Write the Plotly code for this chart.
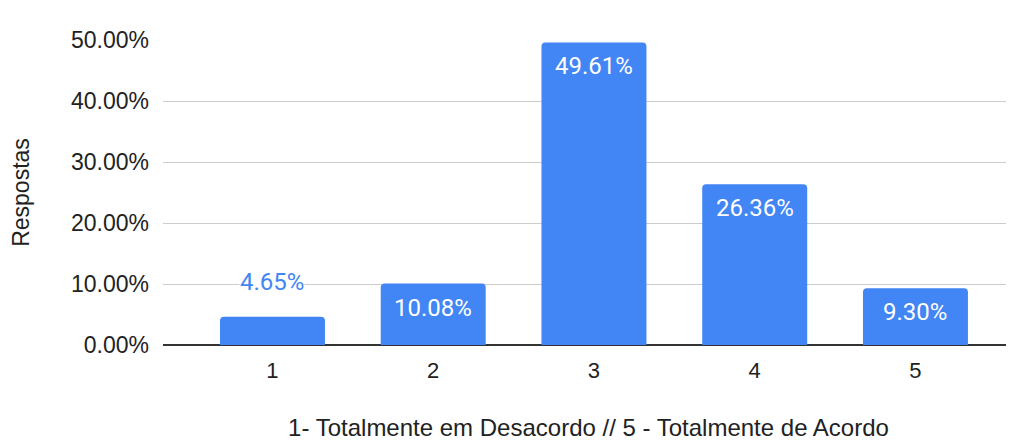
import plotly.graph_objects as go

# Survey answers on a 1-5 agreement scale (share of responses, %)
categories = ["1", "2", "3", "4", "5"]
shares = [4.65, 10.08, 49.61, 26.36, 9.30]
y_ticks = [0, 10, 20, 30, 40, 50]

BLUE = "#4285F4"
FONT = "Roboto, Arial, sans-serif"
ARIAL = "Liberation Sans, Arial, sans-serif"

fig = go.Figure(go.Bar(
    x=categories,
    y=shares,
    marker=dict(color=BLUE, cornerradius=4, line=dict(width=0)),
    hoverinfo="skip",
))

# Value labels: inside the top of tall bars, above short ones
for i, v in enumerate(shares):
    if v > 8:
        fig.add_annotation(
            x=i, y=v, yanchor="top", yshift=-8,
            text=f"{v:.2f}%", showarrow=False,
            font=dict(color="white", size=24, family=FONT),
        )
    else:
        fig.add_annotation(
            x=i, y=v, yanchor="bottom", yshift=20,
            text=f"{v:.2f}%", showarrow=False,
            font=dict(color=BLUE, size=24, family=FONT),
            bgcolor="white", borderpad=0,
        )

# page body has an 8px default margin, so the figure is 8px smaller
fig.update_layout(
    width=1006, height=433,
    margin=dict(l=155, r=0, t=32, b=96),
    paper_bgcolor="white", plot_bgcolor="white",
    bargap=0.347,
    showlegend=False,
    font=dict(family=FONT, color="#222222", size=21),
    xaxis=dict(
        title=dict(text="1- Totalmente em Desacordo // 5 - Totalmente de Acordo",
                   font=dict(size=24, family=ARIAL), standoff=40),
        range=[-0.681, 4.613],
        tickfont=dict(size=22, family=ARIAL),
        showgrid=False, ticks="", showline=False,
        ticklabelstandoff=10, automargin=False,
    ),
    yaxis=dict(
        title=dict(text="Respostas", font=dict(size=23, family=ARIAL), standoff=43),
        range=[0, 50], tickvals=y_ticks,
        ticktext=[f"{t:.2f}%" for t in y_ticks],
        tickfont=dict(size=23, family=ARIAL),
        showgrid=True, gridcolor="#cccccc", gridwidth=1,
        zeroline=True, zerolinecolor="#333333", zerolinewidth=2,
        ticks="", ticklabelstandoff=13, automargin=False,
    ),
)

fig.write_html("out.html")
